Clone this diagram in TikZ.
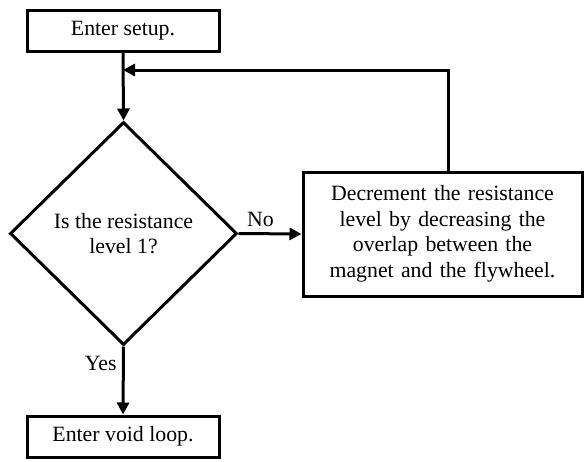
\documentclass[tikz,border=0pt]{standalone}
\usepackage{fontspec}
\setmainfont{Liberation Serif}
\usetikzlibrary{shapes.geometric,arrows.meta}
\begin{document}
\begin{tikzpicture}[x=1pt,y=-1pt,
  every node/.style={font=\fontsize{21.8}{25.5}\selectfont},
  box/.style={draw,line width=3pt,rectangle,inner sep=0pt,align=center},
  dec/.style={draw,line width=3pt,diamond,aspect=1,inner sep=0pt,align=center,minimum width=227pt,minimum height=223pt},
  conn/.style={line width=3pt,-{Triangle[length=12pt,width=12pt]}},
  plain/.style={line width=3pt}]
\useasboundingbox (0,0) rectangle (584,461);
\node[box,minimum width=192pt,minimum height=41pt] (setup) at (123,30.5) {Enter setup.};
\node[dec] (q) at (123.5,233.5) {Is the resistance\\level 1?};
\node[box,minimum width=279pt,minimum height=124pt,text width=270pt] (decr) at (442.5,234) {Decrement the resistance\\level by decreasing the\\overlap between the\\magnet and the flywheel.};
\node[box,minimum width=192pt,minimum height=41pt] (void) at (123,436.5) {Enter void loop.};
\coordinate (j) at (123,70);
\coordinate (c) at (448,70);
\draw[conn] (setup.south) -- (q.north);
\draw[plain] (decr.north -| c) -- (c) -- ([xshift=12pt]j);
\draw[conn] (c) -- (j);
\draw[conn] (q.east) -- node[above,pos=0.35,yshift=2pt] {No} (decr.west);
\draw[conn] (q.south) -- node[left,pos=0.25,xshift=-2pt] {Yes} (void.north);
\end{tikzpicture}
\end{document}
